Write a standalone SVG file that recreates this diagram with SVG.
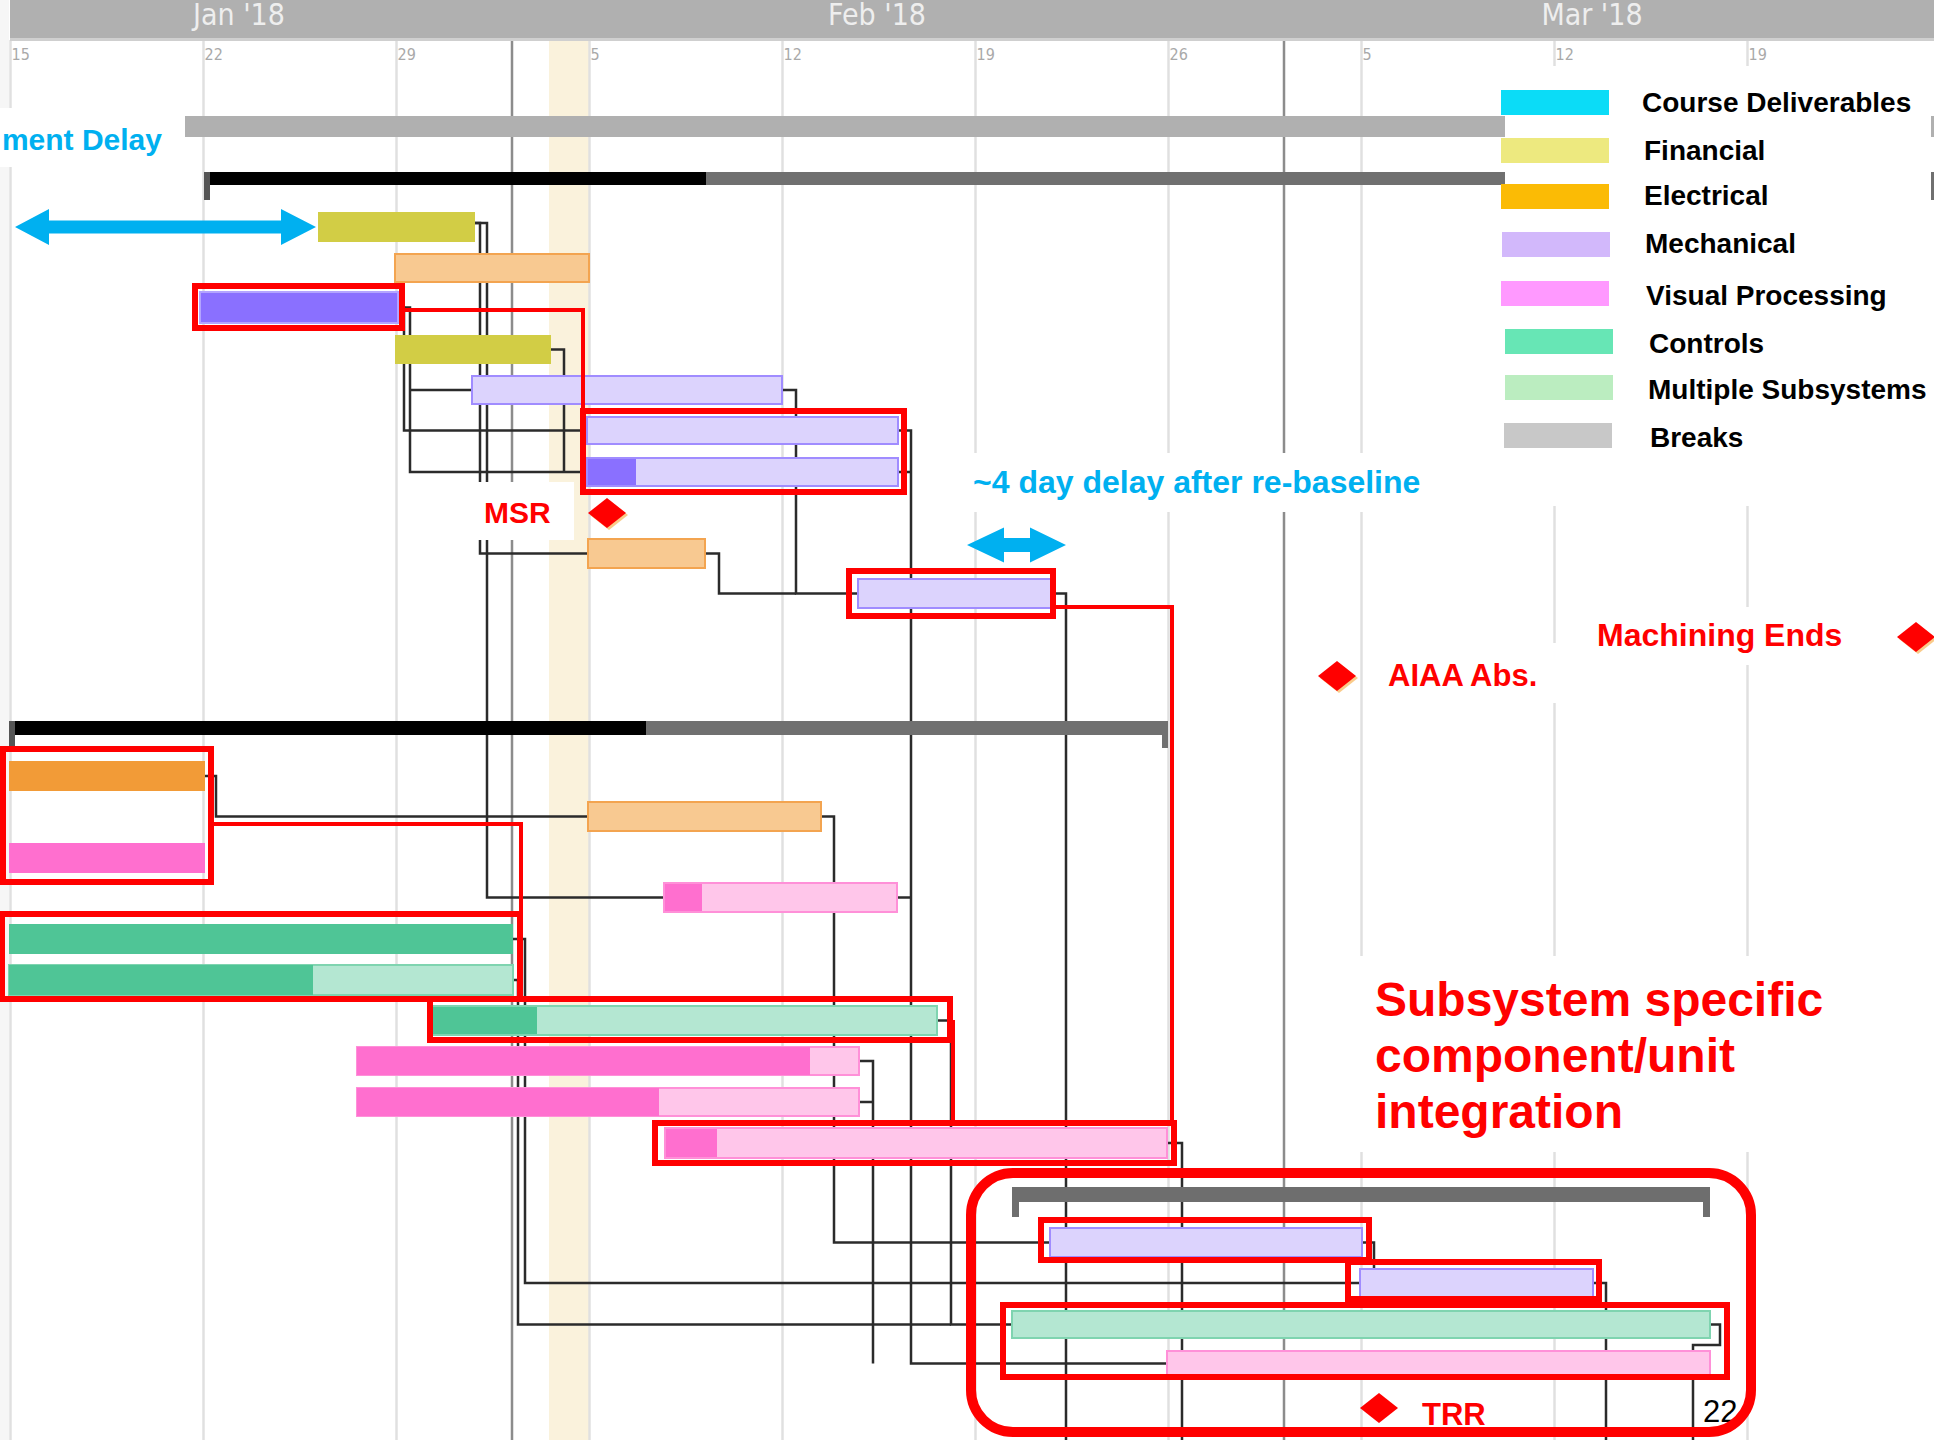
<svg xmlns="http://www.w3.org/2000/svg" width="1934" height="1440" viewBox="0 0 1934 1440">
<style>
.grid{stroke:#e0e0e0;stroke-width:2.5}
.month{stroke:#8c8c8c;stroke-width:2.5}
.day{font-family:"DejaVu Sans Condensed","DejaVu Sans",sans-serif;font-size:16px;fill:#a9a9a9}
.mon{font-family:"DejaVu Sans Condensed","DejaVu Sans",sans-serif;font-size:30px;fill:#eeeeee;text-anchor:middle}
.link{fill:none;stroke:#2b2b2b;stroke-width:2.5}
.rlink{fill:none;stroke:#ff0000;stroke-width:4}
.hl{fill:none;stroke:#ff0000;stroke-width:6}
.mech{fill:#dcd3fd;stroke:#a08cff;stroke-width:2}
.mechd{fill:#8a70ff}
.elec{fill:#f8c991;stroke:#f3a450;stroke-width:2}
.elecd{fill:#f29b37}
.vis{fill:#ffc6ea;stroke:#ff90d8;stroke-width:2}
.visd{fill:#ff6fcf}
.ctl{fill:#b4e7d2;stroke:#7fd4b0;stroke-width:2}
.ctld{fill:#4fc596}
.fin{fill:#d2cd45}
.note{font-family:"Liberation Sans",Arial,sans-serif;font-weight:bold}
.red{fill:#ff0000}
.blue{fill:#00b0f0}
.leg{font-family:"Liberation Sans",Arial,sans-serif;font-weight:bold;font-size:28px;fill:#000}
.mask{fill:#ffffff}
</style>

<!-- canvas -->
<rect x="0" y="0" width="1934" height="1440" fill="#ffffff"/>
<rect x="0" y="0" width="9" height="1440" fill="#f6f6f6"/>
<!-- non-working day band -->
<rect x="549" y="40" width="40" height="1400" fill="#faf2dc"/>

<!-- weekly grid -->
<g id="grid">
  <line class="grid" x1="10.5" y1="40" x2="10.5" y2="1440"/>
  <line class="grid" x1="203.5" y1="40" x2="203.5" y2="1440"/>
  <line class="grid" x1="396.5" y1="40" x2="396.5" y2="1440"/>
  <line class="grid" x1="589.5" y1="40" x2="589.5" y2="1440"/>
  <line class="grid" x1="782.5" y1="40" x2="782.5" y2="1440"/>
  <line class="grid" x1="975.5" y1="40" x2="975.5" y2="1440"/>
  <line class="grid" x1="1168.5" y1="40" x2="1168.5" y2="1440"/>
  <line class="grid" x1="1361.5" y1="40" x2="1361.5" y2="1440"/>
  <line class="grid" x1="1554.5" y1="40" x2="1554.5" y2="1440"/>
  <line class="grid" x1="1747.5" y1="40" x2="1747.5" y2="1440"/>
  <line class="month" x1="512" y1="40" x2="512" y2="1440"/>
  <line class="month" x1="1284" y1="40" x2="1284" y2="1440"/>
</g>

<!-- timescale header -->
<g id="timescale">
  <rect x="10" y="0" width="1924" height="38" fill="#b0b0b0"/>
  <rect x="10" y="38" width="1924" height="3" fill="#cfcfcf"/>
  <text class="mon" x="239" y="25">Jan '18</text>
  <text class="mon" x="877" y="25">Feb '18</text>
  <text class="mon" x="1592" y="25">Mar '18</text>
  <text class="day" x="11.5" y="60">15</text>
  <text class="day" x="204.5" y="60">22</text>
  <text class="day" x="397.5" y="60">29</text>
  <text class="day" x="590.5" y="60">5</text>
  <text class="day" x="783.5" y="60">12</text>
  <text class="day" x="976.5" y="60">19</text>
  <text class="day" x="1169.5" y="60">26</text>
  <text class="day" x="1362.5" y="60">5</text>
  <text class="day" x="1555.5" y="60">12</text>
  <text class="day" x="1748.5" y="60">19</text>
</g>

<!-- dependency links -->
<g id="connectors">
  <path class="link" d="M475,223 H480 V553.5 H588"/>
  <path class="link" d="M475,223 H487 V897.5 H664"/>
  <path class="link" d="M398,307.5 H404 V430.5 H587"/>
  <path class="link" d="M398,307.5 H410 V472 H587"/>
  <path class="link" d="M410,390 H472"/>
  <path class="link" d="M551,349.5 H564 V472"/>
  <path class="link" d="M782,390 H796 V593.5 H858"/>
  <path class="link" d="M705,553.5 H719 V593.5 H796"/>
  <path class="link" d="M898,430.5 H911 V1363.5 H1167"/>
  <path class="link" d="M898,472 H911"/>
  <path class="link" d="M897,897.5 H911"/>
  <path class="link" d="M1051,593.5 H1066 V1440"/>
  <path class="link" d="M205,776 H216 V816.5 H588"/>
  <path class="link" d="M821,816.5 H834 V1242.5 H1050"/>
  <path class="link" d="M859,1061 H873 V1363.5"/>
  <path class="link" d="M859,1102 H873"/>
  <path class="link" d="M937,1020.5 H951 V1324.5 H1012"/>
  <path class="link" d="M513,939 H525 V1283 H1360"/>
  <path class="link" d="M513,980 H518 V1324.5 H951"/>
  <path class="link" d="M1167,1143 H1182 V1440"/>
  <path class="link" d="M1362,1242.5 H1374 V1269"/>
  <path class="link" d="M1593,1283 H1606 V1440"/>
  <path class="link" d="M1710,1324.5 H1720 V1345 H1693 V1440"/>
</g>

<!-- summary rows -->
<g id="breaks"><rect x="185" y="116" width="1749" height="21" fill="#b0b0b0"/></g>
<g id="summary-1">
  <rect x="204" y="172" width="1730" height="13" fill="#707070"/>
  <rect x="204" y="172" width="502" height="13" fill="#000000"/>
  <rect x="204" y="172" width="6" height="28" fill="#555555"/>
  <rect x="1928" y="172" width="6" height="28" fill="#707070"/>
</g>
<g id="summary-2">
  <rect x="9" y="721" width="1159" height="14" fill="#707070"/>
  <rect x="9" y="721" width="637" height="14" fill="#000000"/>
  <rect x="9" y="721" width="6" height="27" fill="#555555"/>
  <rect x="1162" y="721" width="6" height="27" fill="#707070"/>
</g>
<g id="summary-3">
  <rect x="1012" y="1187" width="698" height="15" fill="#6e6e6e"/>
  <rect x="1012" y="1187" width="7" height="30" fill="#6e6e6e"/>
  <rect x="1703" y="1187" width="7" height="30" fill="#6e6e6e"/>
</g>

<!-- task bars -->
<g id="task-fin-1"><rect class="fin" x="318" y="212" width="157" height="30"/></g>
<g id="task-elec-1"><rect class="elec" x="395" y="254" width="194" height="28"/></g>
<g id="task-mech-1"><rect class="mechd" x="200" y="292" width="198" height="31" stroke="#b3a4ff" stroke-width="2"/></g>
<g id="task-fin-2"><rect class="fin" x="395" y="335" width="156" height="29"/></g>
<g id="task-mech-2"><rect class="mech" x="472" y="376" width="310" height="28"/></g>
<g id="task-mech-3"><rect class="mech" x="587" y="417" width="311" height="27"/></g>
<g id="task-mech-4"><rect class="mech" x="587" y="458" width="311" height="28"/><rect class="mechd" x="588" y="459" width="48" height="26"/></g>
<g id="task-elec-2"><rect class="elec" x="588" y="539" width="117" height="29"/></g>
<g id="task-mech-5"><rect class="mech" x="858" y="579" width="193" height="29"/></g>

<g id="task-elec-3"><rect class="elecd" x="9" y="761" width="196" height="30"/></g>
<g id="task-vis-1"><rect class="visd" x="9" y="843" width="196" height="30"/></g>
<g id="task-elec-4"><rect class="elec" x="588" y="802" width="233" height="29"/></g>
<g id="task-vis-2"><rect class="vis" x="664" y="883" width="233" height="29"/><rect class="visd" x="665" y="884" width="37" height="27"/></g>
<g id="task-ctl-1"><rect class="ctld" x="9" y="924" width="504" height="30"/></g>
<g id="task-ctl-2"><rect class="ctl" x="9" y="965" width="504" height="30"/><rect class="ctld" x="9" y="965" width="304" height="30"/></g>
<g id="task-ctl-3"><rect class="ctl" x="432" y="1006" width="505" height="29"/><rect class="ctld" x="433" y="1007" width="104" height="27"/></g>
<g id="task-vis-3"><rect class="vis" x="357" y="1047" width="502" height="28"/><rect class="visd" x="357" y="1047" width="453" height="28"/></g>
<g id="task-vis-4"><rect class="vis" x="357" y="1088" width="502" height="28"/><rect class="visd" x="357" y="1088" width="302" height="28"/></g>
<g id="task-vis-5"><rect class="vis" x="665" y="1128" width="502" height="30"/><rect class="visd" x="666" y="1129" width="51" height="28"/></g>

<g id="task-mech-6"><rect class="mech" x="1050" y="1228" width="312" height="29"/></g>
<g id="task-mech-7"><rect class="mech" x="1360" y="1269" width="233" height="28"/></g>
<g id="task-ctl-4"><rect class="ctl" x="1012" y="1311" width="698" height="27"/></g>
<g id="task-vis-6"><rect class="vis" x="1167" y="1351" width="543" height="25"/></g>

<!-- text box backgrounds -->
<rect class="mask" x="0" y="108" width="185" height="59"/>
<rect class="mask" x="475" y="482" width="99" height="58"/>
<rect class="mask" x="966" y="453" width="464" height="59"/>
<rect class="mask" x="1372" y="643" width="188" height="60"/>
<rect class="mask" x="1585" y="607" width="275" height="58"/>
<rect class="mask" x="1335" y="956" width="515" height="196"/>

<!-- legend -->
<g id="legend">
  <rect class="mask" x="1505" y="66" width="426" height="440"/>
  <rect x="1501" y="90" width="108" height="25" fill="#0bdcf7"/>
  <text class="leg" x="1642" y="112">Course Deliverables</text>
  <rect x="1501" y="138" width="108" height="25" fill="#ede97f"/>
  <text class="leg" x="1644" y="160">Financial</text>
  <rect x="1501" y="184" width="108" height="25" fill="#fbbb05"/>
  <text class="leg" x="1644" y="205">Electrical</text>
  <rect x="1502" y="232" width="108" height="25" fill="#d2b8fb"/>
  <text class="leg" x="1645" y="253">Mechanical</text>
  <rect x="1501" y="281" width="108" height="25" fill="#ff99ff"/>
  <text class="leg" x="1646" y="305">Visual Processing</text>
  <rect x="1505" y="329" width="108" height="25" fill="#67e6b5"/>
  <text class="leg" x="1649" y="353">Controls</text>
  <rect x="1505" y="375" width="108" height="25" fill="#bbedc0"/>
  <text class="leg" x="1648" y="399">Multiple Subsystems</text>
  <rect x="1504" y="423" width="108" height="25" fill="#c8c8c8"/>
  <text class="leg" x="1650" y="447">Breaks</text>
</g>

<!-- annotations -->
<g id="note-delay-1">
  <text class="note blue" x="162" y="150" font-size="30" text-anchor="end">ment Delay</text>
  <polygon class="blue" points="15,227 49,209 49,220.5 281,220.5 281,209 316,227 281,245 281,233.5 49,233.5 49,245"/>
</g>
<g id="note-delay-2">
  <text class="note blue" x="973" y="493" font-size="32">~4 day delay after re-baseline</text>
  <polygon class="blue" points="967,545 1004,527.5 1004,538 1030,538 1030,527.5 1066,545 1030,562.5 1030,552 1004,552 1004,562.5"/>
</g>
<g id="ms-msr">
  <text class="note red" x="484" y="523" font-size="30">MSR</text>
  <polygon points="609,500 628,515 609,530 590,515" fill="#f6a83c" opacity="0.6"/>
  <polygon class="red" points="607,498 626,513 607,528 588,513"/>
</g>
<g id="ms-aiaa">
  <polygon points="1339,663 1358,678 1339,693 1320,678" fill="#f6a83c" opacity="0.6"/>
  <polygon class="red" points="1337,661 1356,676 1337,691 1318,676"/>
  <text class="note red" x="1388" y="686" font-size="31">AIAA Abs.</text>
</g>
<g id="ms-machining">
  <text class="note red" x="1597" y="646" font-size="32">Machining Ends</text>
  <polygon points="1918,624 1937,639 1918,654 1899,639" fill="#f6a83c" opacity="0.6"/>
  <polygon class="red" points="1916,622 1935,637 1916,652 1897,637"/>
</g>
<g id="note-integration">
  <text class="note red" font-size="48"><tspan x="1375" y="1016">Subsystem specific</tspan><tspan x="1375" y="1072">component/unit</tspan><tspan x="1375" y="1128">integration</tspan></text>
</g>
<g id="ms-trr">
  <polygon class="red" points="1379,1393 1398,1408 1379,1423 1360,1408"/>
  <text class="note red" x="1422" y="1425" font-size="31">TRR</text>
</g>
<text x="1703" y="1422" font-family="Liberation Sans, Arial, sans-serif" font-size="31" fill="#000">22</text>

<!-- highlight links -->
<g id="highlight-links">
  <path class="rlink" d="M405,310 H583 V411"/>
  <path class="rlink" d="M214,824 H521 V914"/>
  <path class="rlink" d="M953,1020 V1123"/>
  <path class="rlink" d="M1056,607 H1172 V1123"/>
</g>

<!-- highlight boxes -->
<g id="highlights">
  <rect class="hl" x="195" y="286" width="207" height="42"/>
  <rect class="hl" x="583" y="411" width="321" height="81"/>
  <rect class="hl" x="3" y="749" width="208" height="133"/>
  <rect class="hl" x="2" y="914" width="518" height="85"/>
  <rect class="hl" x="430" y="999" width="520" height="41"/>
  <rect class="hl" x="655" y="1123" width="519" height="40"/>
  <rect class="hl" x="849" y="571" width="204" height="45"/>
  <rect class="hl" x="1041" y="1220" width="328" height="40"/>
  <rect class="hl" x="1348" y="1262" width="251" height="37"/>
  <rect class="hl" x="1003" y="1305" width="724" height="72"/>
  <rect x="971" y="1173" width="780" height="259" rx="42" fill="none" stroke="#ff0000" stroke-width="10"/>
</g>
</svg>
